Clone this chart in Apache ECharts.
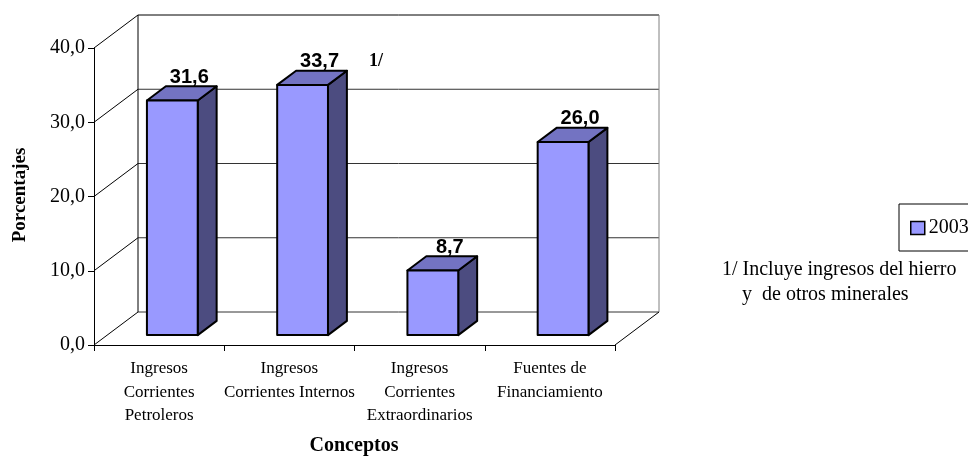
<!DOCTYPE html>
<html>
<head>
<meta charset="utf-8">
<script src="https://cdn.jsdelivr.net/npm/echarts@6/dist/echarts.min.js"></script>
<style>
  html, body { margin: 0; padding: 0; background: #ffffff; }
  #chart { width: 968px; height: 457px; }
</style>
</head>
<body>
<div id="chart"></div>
<script>
// ---- data ----
const categories = [
  'Ingresos\nCorrientes\nPetroleros',
  'Ingresos\nCorrientes Internos',
  'Ingresos\nCorrientes\nExtraordinarios',
  'Fuentes de\nFinanciamiento'
];
const values2003 = [31.6, 33.7, 8.7, 26.0];
const yTicks = [0, 10, 20, 30, 40];
const seriesName = '2003';
const yTitle = 'Porcentajes';
const xTitle = 'Conceptos';
const noteMark = '1/';
const footnoteLines = ['1/ Incluye ingresos del hierro', 'y  de otros minerales'];

// ---- look ----
const SERIF = '"Liberation Serif", "Times New Roman", serif';
const SANS = '"Liberation Sans", Arial, sans-serif';
const FRONT = '#9999FF';
const TOP = '#7373C2';
const SIDE = '#4C4C80';
const DX = 44, DY = -33;           // oblique depth of the floor/walls
const BAR_FRONT = 0.30, BAR_BACK = 0.73; // bar slab position inside the depth
const BAR_RATIO = 0.39;            // bar width relative to category band

const fmt = v => v.toFixed(1).replace('.', ',');

// side wall, back wall and floor outline
function renderWalls(params, api) {
  const cs = params.coordSys;
  const x0 = cs.x, x1 = cs.x + cs.width;
  const yBase = api.coord([0, yTicks[0]])[1];
  const yTop = api.coord([0, yTicks[yTicks.length - 1]])[1];
  const children = [];
  const line = (a, b, c, d, color) => children.push({
    type: 'line',
    shape: { x1: a, y1: b, x2: c, y2: d },
    style: { stroke: color, lineWidth: 1 }
  });
  yTicks.forEach(t => {
    const y = api.coord([0, t])[1];
    line(x0, y, x0 + DX, y + DY, '#000');
    line(x0 + DX, y + DY, x1 + DX, y + DY, t === yTicks[yTicks.length - 1] ? '#000' : '#333');
  });
  line(x0 + DX, yTop + DY, x0 + DX, yBase + DY, '#000');
  line(x1 + DX, yTop + DY, x1 + DX, yBase + DY, '#808080');
  line(x1, yBase, x1 + DX, yBase + DY, '#000');
  return { type: 'group', children };
}

// one 3D column per category
function renderBar(params, api) {
  const idx = api.value(0), v = api.value(1);
  const base = api.coord([idx, 0]);
  const top = api.coord([idx, v]);
  const w = api.size([1, 0])[0] * BAR_RATIO;
  const xl = base[0] - w / 2 + DX * BAR_FRONT;
  const xr = xl + w;
  const yb = base[1] + DY * BAR_FRONT;
  const yt = top[1] + DY * BAR_FRONT;
  const dx = DX * (BAR_BACK - BAR_FRONT), dy = DY * (BAR_BACK - BAR_FRONT);
  const edge = { stroke: '#000', lineWidth: 2, lineJoin: 'round' };
  return {
    type: 'group',
    children: [
      { type: 'polygon', shape: { points: [[xr, yt], [xr + dx, yt + dy], [xr + dx, yb + dy], [xr, yb]] },
        style: Object.assign({ fill: SIDE }, edge) },
      { type: 'polygon', shape: { points: [[xl, yt], [xr, yt], [xr + dx, yt + dy], [xl + dx, yt + dy]] },
        style: Object.assign({ fill: TOP }, edge) },
      { type: 'rect', shape: { x: xl, y: yt, width: w, height: yb - yt },
        style: Object.assign({ fill: FRONT }, edge) },
      { type: 'text', style: {
          text: fmt(v), x: xl + w / 2 + 17, y: yt + dy + 1,
          align: 'center', verticalAlign: 'bottom',
          fontFamily: SANS, fontWeight: 'bold', fontSize: 20, fill: '#000'
        } }
    ]
  };
}

const chart = echarts.init(document.getElementById('chart'), null, { renderer: 'canvas' });

chart.setOption({
  animation: false,
  backgroundColor: '#ffffff',
  grid: { left: 94, right: 353, top: 48, bottom: 112, containLabel: false },
  xAxis: {
    type: 'category',
    data: categories,
    boundaryGap: true,
    axisLine: { show: true, lineStyle: { color: '#000', width: 1 } },
    axisTick: { show: true, length: 6, interval: 0, lineStyle: { color: '#000' } },
    axisLabel: {
      interval: 0, margin: 12, color: '#000',
      fontFamily: SERIF, fontSize: 17, lineHeight: 23.5
    },
    splitLine: { show: false }
  },
  yAxis: {
    type: 'value',
    min: yTicks[0], max: yTicks[yTicks.length - 1], interval: 10,
    axisLine: { show: true, lineStyle: { color: '#000', width: 1 } },
    axisTick: { show: true, length: 6, lineStyle: { color: '#000' } },
    axisLabel: { formatter: v => fmt(v), margin: 9, color: '#000', fontFamily: SERIF, fontSize: 20 },
    splitLine: { show: false }
  },
  legend: {
    data: [seriesName],
    left: 899, top: 204,
    orient: 'vertical',
    icon: 'rect',
    itemWidth: 14, itemHeight: 13,
    padding: [14, 60, 13, 11],
    borderColor: '#000', borderWidth: 1,
    itemStyle: { color: FRONT, borderColor: '#000', borderWidth: 1.5 },
    textStyle: { color: '#000', fontFamily: SERIF, fontSize: 20, padding: [0, 0, 0, -1] },
    selectedMode: false
  },
  graphic: [
    { type: 'text', x: 20, y: 195, rotation: Math.PI / 2,
      style: { text: yTitle, align: 'center', verticalAlign: 'middle',
               fontFamily: SERIF, fontWeight: 'bold', fontSize: 19, fill: '#000' } },
    { type: 'text', x: 354, y: 446,
      style: { text: xTitle, align: 'center', verticalAlign: 'middle',
               fontFamily: SERIF, fontWeight: 'bold', fontSize: 20, fill: '#000' } },
    { type: 'text', x: 369, y: 52,
      style: { text: noteMark, align: 'left', verticalAlign: 'top',
               fontFamily: SERIF, fontWeight: 'bold', fontSize: 18, fill: '#000' } },
    { type: 'text', x: 722, y: 270,
      style: { text: footnoteLines[0], align: 'left', verticalAlign: 'middle',
               fontFamily: SERIF, fontSize: 20, fill: '#000' } },
    { type: 'text', x: 742, y: 295,
      style: { text: footnoteLines[1], align: 'left', verticalAlign: 'middle',
               fontFamily: SERIF, fontSize: 20, fill: '#000' } }
  ],
  series: [
    {
      type: 'custom',
      name: 'walls',
      z: 1,
      silent: true,
      clip: false,
      renderItem: renderWalls,
      data: [[0, 0]]
    },
    {
      type: 'custom',
      name: seriesName,
      z: 3,
      clip: false,
      itemStyle: { color: FRONT },
      renderItem: renderBar,
      encode: { x: 0, y: 1 },
      data: values2003.map((v, i) => [i, v])
    }
  ]
});
</script>
</body>
</html>
